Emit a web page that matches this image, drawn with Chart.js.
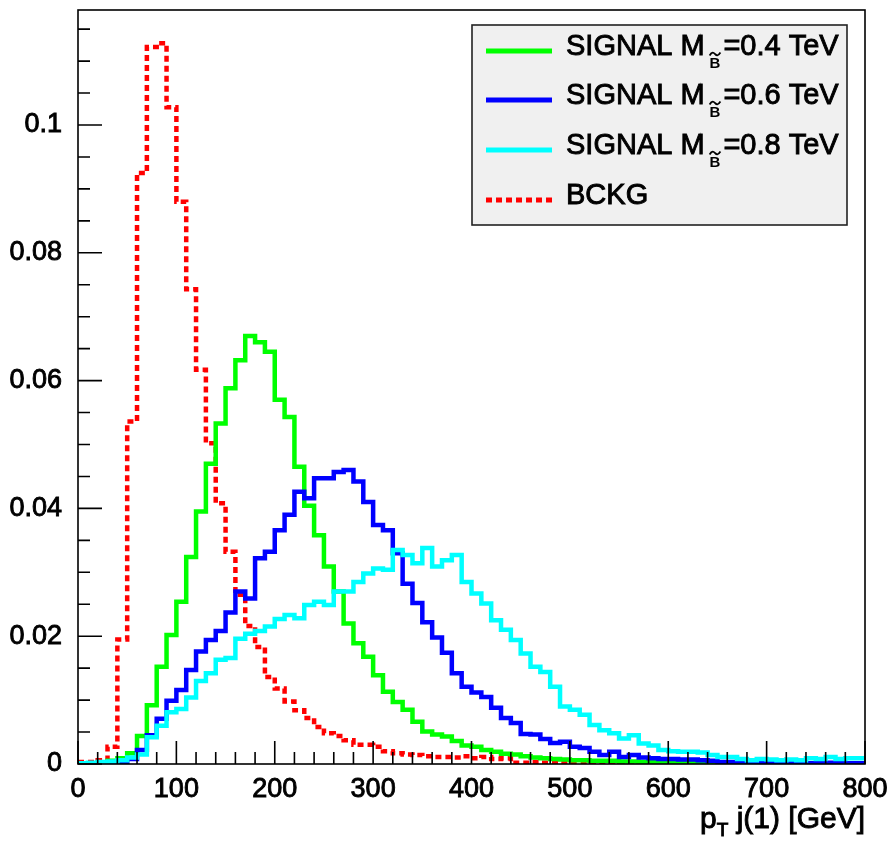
<!DOCTYPE html>
<html><head><meta charset="utf-8">
<title>pT j(1) [GeV]</title>
<script src="https://cdn.jsdelivr.net/npm/chart.js@4"></script>
<style>
  body { margin: 0; background: #fff; }
  #wrap { width: 893px; height: 845px; }
</style></head>
<body>
<div id="wrap"><canvas id="c" width="893" height="845"></canvas></div>
<script>
// --- DADOS (bins de 10 GeV, 0..800) ---
const binWidth = 10;
const xMin = 0, xMax = 800, yMax = 0.118;

const sig04 = [0.0001,0.0001,0.0002,0.0005,0.0009,0.0017,0.0044,0.0092,0.0152,0.0202,
  0.0254,0.0324,0.0395,0.0470,0.0533,0.0588,0.0632,0.0670,0.0660,0.0645,
  0.0570,0.0543,0.0465,0.0404,0.0358,0.0309,0.0270,0.0220,0.0189,0.0168,
  0.0139,0.0113,0.0097,0.0085,0.0066,0.0051,0.0046,0.0043,0.0036,0.0029,
  0.0027,0.0022,0.0019,0.0016,0.0015,0.0012,0.0010,0.0009,0.0008,0.0007,
  0.0006,0.0006,0.0005,0.0005,0.0005,0.0004,0.0004,0.0003,0.0003,0.0003,
  0.0002,0.0002,0.0002,0.0002,0.0002,0.0001,0.0001,0.0001,0.0001,0.0001,
  0.0001,0.0001,0.0001,0.0001,0.0001,0.0001,0.0001,0.0001,0.0001,0.0001];

const sig06 = [0.0000,0.0000,0.0001,0.0002,0.0003,0.0008,0.0022,0.0045,0.0071,0.0099,
  0.0116,0.0147,0.0176,0.0194,0.0208,0.0237,0.0270,0.0259,0.0322,0.0332,
  0.0366,0.0390,0.0426,0.0416,0.0447,0.0447,0.0457,0.0460,0.0442,0.0410,
  0.0374,0.0366,0.0330,0.0282,0.0252,0.0222,0.0198,0.0174,0.0142,0.0121,
  0.0112,0.0105,0.0088,0.0072,0.0064,0.0047,0.0046,0.0039,0.0033,0.0035,
  0.0027,0.0025,0.0019,0.0014,0.0019,0.0011,0.0014,0.0010,0.0009,0.0008,
  0.0008,0.0007,0.0007,0.0006,0.0005,0.0003,0.0003,0.0004,0.0003,0.0002,
  0.0002,0.0002,0.0001,0.0002,0.0001,0.0001,0.0002,0.0001,0.0001,0.0001];

const sig08 = [0.0001,0.0002,0.0003,0.0004,0.0006,0.0010,0.0015,0.0042,0.0060,0.0081,
  0.0086,0.0104,0.0130,0.0142,0.0163,0.0166,0.0196,0.0204,0.0208,0.0215,
  0.0227,0.0233,0.0228,0.0249,0.0254,0.0249,0.0270,0.0270,0.0285,0.0298,
  0.0306,0.0304,0.0335,0.0327,0.0314,0.0338,0.0309,0.0319,0.0327,0.0285,
  0.0267,0.0251,0.0225,0.0210,0.0194,0.0173,0.0152,0.0144,0.0121,0.0090,
  0.0085,0.0077,0.0061,0.0053,0.0048,0.0040,0.0045,0.0032,0.0029,0.0022,
  0.0020,0.0019,0.0019,0.0018,0.0014,0.0011,0.0011,0.0008,0.0006,0.0008,
  0.0007,0.0006,0.0007,0.0006,0.0009,0.0008,0.0011,0.0008,0.0009,0.0009];

const bckg = [0.0003,0.0003,0.0006,0.0027,0.0195,0.0536,0.0925,0.1122,0.1128,0.1028,
  0.0880,0.0743,0.0617,0.0502,0.0408,0.0332,0.0265,0.0216,0.0183,0.0136,
  0.0118,0.0098,0.0084,0.0072,0.0058,0.0048,0.0044,0.0037,0.0030,0.0030,
  0.0027,0.0020,0.0017,0.0015,0.0014,0.0012,0.0011,0.0011,0.0010,0.0012,
  0.0009,0.0011,0.0008,0.0009,0.0002,0.0002,0.0003,0.0002,0.0002,0.0001,
  0.0002,0.0002,0.0001,0.0002,0.0002,0.0001,0.0002,0.0001,0.0001,0.0002,
  0.0001,0.0001,0.0002,0.0001,0.0001,0.0001,0.0001,0.0002,0.0001,0.0001,
  0.0001,0.0001,0.0001,0.0001,0.0001,0.0001,0.0001,0.0001,0.0001,0.0001];

const xTicks = [0, 100, 200, 300, 400, 500, 600, 700, 800];
const xTickLabels = ['0', '100', '200', '300', '400', '500', '600', '700', '800'];
const yTicks = [0, 0.02, 0.04, 0.06, 0.08, 0.1];
const yTickLabels = ['0', '0.02', '0.04', '0.06', '0.08', '0.1'];

// legenda: "SIGNAL M" + indice B~ + resto
const legMain = ['SIGNAL M', 'SIGNAL M', 'SIGNAL M', 'BCKG'];
const legRest = ['=0.4 TeV', '=0.6 TeV', '=0.8 TeV', ''];

const FONT = '"Liberation Sans", Arial, Helvetica, sans-serif';
const STROKE = 0.9; // engrossa um pouco o texto, como no original

// histograma em degraus: dois pontos por bin
function steps(vals) {
  const pts = [];
  vals.forEach((v, i) => {
    pts.push({ x: i * binWidth, y: v });
    pts.push({ x: (i + 1) * binWidth, y: v });
  });
  return pts;
}

function text(ctx, s, x, y) {
  ctx.fillText(s, x, y);
  ctx.strokeText(s, x, y);
}

// --- PLUGIN: moldura, ticks internos, titulo do eixo, legenda ---
const rootStyle = {
  id: 'rootStyle',
  afterDatasetsDraw(chart) {
    const { ctx, chartArea: a, scales: { x, y } } = chart;
    ctx.save();
    ctx.strokeStyle = '#000';
    ctx.lineWidth = 1.6;
    // moldura
    ctx.strokeRect(a.left, a.top, a.right - a.left, a.bottom - a.top);
    // ticks do eixo x (para dentro)
    ctx.beginPath();
    for (let v = xMin; v <= xMax; v += 20) {
      const px = x.getPixelForValue(v);
      const len = (v % 100 === 0) ? 23 : 12;
      ctx.moveTo(px, a.bottom);
      ctx.lineTo(px, a.bottom - len);
    }
    // ticks do eixo y
    for (let i = 0; i * 0.005 <= yMax; i++) {
      const py = y.getPixelForValue(i * 0.005);
      const len = (i % 4 === 0) ? 24 : 12;
      ctx.moveTo(a.left, py);
      ctx.lineTo(a.left + len, py);
    }
    ctx.stroke();

    // titulo do eixo x: p_T j(1) [GeV]
    ctx.fillStyle = '#000';
    ctx.strokeStyle = '#000';
    ctx.lineWidth = STROKE;
    ctx.textBaseline = 'alphabetic';
    ctx.textAlign = 'left';
    const big = '30px ' + FONT, small = '19px ' + FONT;
    ctx.font = big;
    const wRest = ctx.measureText(' j(1) [GeV]').width;
    const wP = ctx.measureText('p').width;
    ctx.font = small;
    const wT = ctx.measureText('T').width;
    const tx = a.right - wRest - wT - wP;
    const ty = 828;
    ctx.font = big;
    text(ctx, 'p', tx, ty);
    ctx.font = small;
    text(ctx, 'T', tx + wP, ty + 8);
    ctx.font = big;
    text(ctx, ' j(1) [GeV]', tx + wP + wT, ty);

    // legenda
    const bx = 472, by = 25, bw = 375, bh = 200;
    ctx.fillStyle = '#f0f0f0';
    ctx.fillRect(bx, by, bw, bh);
    ctx.lineWidth = 1.6;
    ctx.strokeStyle = '#222';
    ctx.strokeRect(bx, by, bw, bh);
    const rowsY = [51, 100, 150, 200];
    chart.data.datasets.forEach((ds, i) => {
      const ly = rowsY[i];
      ctx.save();
      ctx.strokeStyle = ds.borderColor;
      ctx.lineWidth = 5;
      ctx.setLineDash(ds.borderDash || []);
      ctx.beginPath();
      ctx.moveTo(486, ly);
      ctx.lineTo(552, ly);
      ctx.stroke();
      ctx.restore();
      ctx.fillStyle = '#000';
      ctx.strokeStyle = '#000';
      ctx.lineWidth = STROKE;
      ctx.font = '29px ' + FONT;
      const tx0 = 566, base = ly + 4;
      text(ctx, legMain[i], tx0, base);
      if (legRest[i]) {
        const wm = ctx.measureText(legMain[i]).width;
        const bxs = tx0 + wm + 5;
        ctx.font = 'bold 15px ' + FONT;
        const wb = ctx.measureText('B').width;
        ctx.fillText('B', bxs, base + 13);
        // til sobre o B
        ctx.save();
        ctx.lineWidth = 1.8;
        ctx.beginPath();
        const t0 = base - 1;
        ctx.moveTo(bxs, t0 + 1.5);
        ctx.bezierCurveTo(bxs + 2.5, t0 - 2.5, bxs + 4, t0 - 1.5, bxs + wb / 2, t0);
        ctx.bezierCurveTo(bxs + wb / 2 + 1.5, t0 + 1.5, bxs + wb - 2.5, t0 + 2.5, bxs + wb, t0 - 1.5);
        ctx.stroke();
        ctx.restore();
        ctx.font = '29px ' + FONT;
        text(ctx, legRest[i], bxs + wb + 3, base);
      }
    });
    ctx.restore();
  }
};

const tickFont = { family: FONT, size: 27 };

new Chart(document.getElementById('c'), {
  type: 'line',
  data: {
    datasets: [
      { label: 'SIGNAL 0.4 TeV', data: steps(sig04), borderColor: '#00ff00', borderWidth: 4.5, order: 3 },
      { label: 'SIGNAL 0.6 TeV', data: steps(sig06), borderColor: '#0000ff', borderWidth: 4.5, order: 2 },
      { label: 'SIGNAL 0.8 TeV', data: steps(sig08), borderColor: '#00ffff', borderWidth: 4.5, order: 1 },
      { label: 'BCKG', data: steps(bckg), borderColor: '#ff0000', borderWidth: 4.5, borderDash: [6, 4], order: 4 }
    ]
  },
  options: {
    responsive: false,
    animation: false,
    devicePixelRatio: 1,
    layout: { padding: { top: 10, right: 28, left: 0, bottom: 0 } },
    elements: { point: { radius: 0 }, line: { tension: 0, borderJoinStyle: 'miter', borderCapStyle: 'butt' } },
    plugins: { legend: { display: false }, tooltip: { enabled: false } },
    scales: {
      x: {
        type: 'linear', min: xMin, max: xMax,
        grid: { display: false, drawTicks: false },
        border: { display: false },
        ticks: {
          color: '#000', font: tickFont, padding: 9, maxRotation: 0, autoSkip: false,
          textStrokeColor: '#000', textStrokeWidth: STROKE,
          callback: (v) => xTickLabels[xTicks.indexOf(v)]
        },
        afterBuildTicks: (s) => { s.ticks = xTicks.map(v => ({ value: v })); },
        afterFit: (s) => { s.height = 81; s.paddingLeft = 0; s.paddingRight = 0; }
      },
      y: {
        type: 'linear', min: 0, max: yMax,
        grid: { display: false, drawTicks: false },
        border: { display: false },
        ticks: {
          color: '#000', font: tickFont, padding: 16, autoSkip: false,
          textStrokeColor: '#000', textStrokeWidth: STROKE,
          callback: (v) => yTickLabels[yTicks.indexOf(v)]
        },
        afterBuildTicks: (s) => { s.ticks = yTicks.map(v => ({ value: v })); },
        afterFit: (s) => { s.width = 78; s.paddingTop = 0; s.paddingBottom = 0; }
      }
    }
  },
  plugins: [rootStyle]
});
</script>
</body></html>
